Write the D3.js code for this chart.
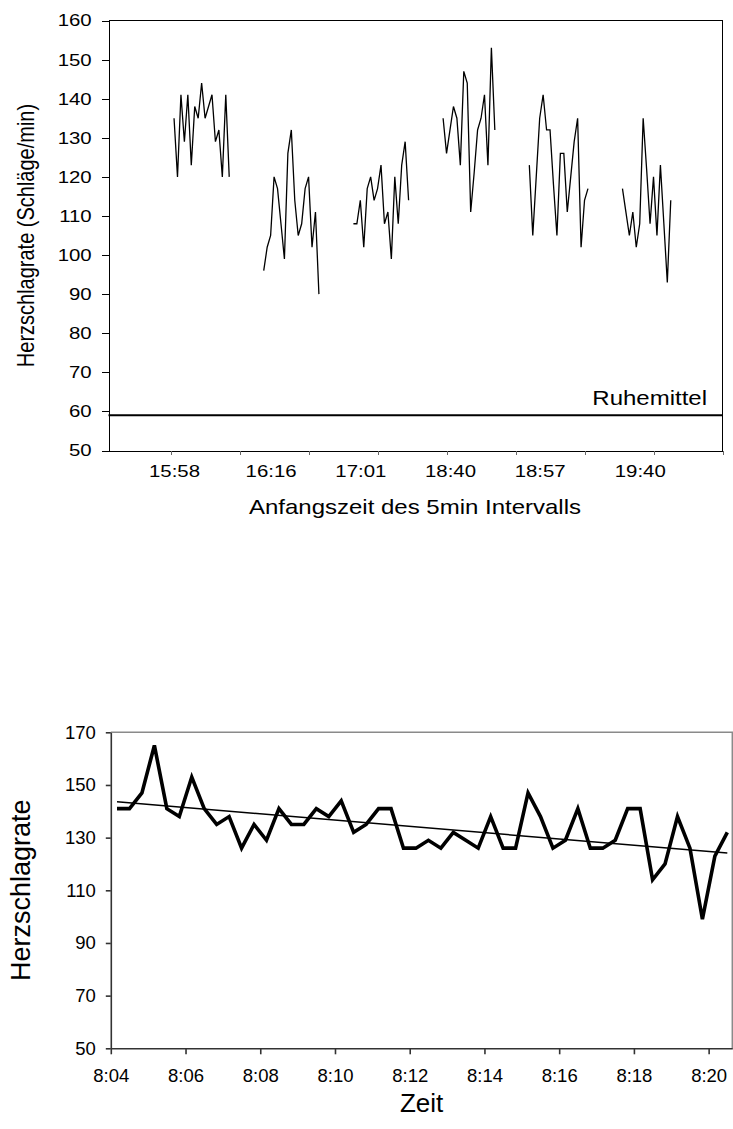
<!DOCTYPE html>
<html lang="de">
<head>
<meta charset="utf-8">
<title>Herzschlagrate</title>
<script src="https://cdn.jsdelivr.net/npm/d3@7"></script>
<style>
  body { margin: 0; background: #fff; }
  svg text { font-family: "Liberation Sans", Arial, Helvetica, sans-serif; fill: #000; }
</style>
</head>
<body>
<svg id="chart" width="733" height="1129"></svg>
<script>
// ---- top chart: heart rate in six 5 minute intervals (category axis) ----
var slotCount = 178;
var intervalLabels = ["15:58", "16:16", "17:01", "18:40", "18:57", "19:40"];
var labelSlots = [19, 47, 73, 99, 125, 154];
var intervalStarts = [19, 45, 71, 97, 122, 149];

var rate1558 = [135, 120, 141, 129, 141, 123, 138, 135, 144, 135, 138, 141, 129, 132, 120, 141, 120];
var rate1616 = [96, 102, 105, 120, 117, 108, 99, 126, 132, 114, 105, 108, 117, 120, 102, 111, 90];
var rate1701 = [108, 108, 114, 102, 117, 120, 114, 117, 123, 108, 111, 99, 120, 108, 123, 129, 114];
var rate1840 = [135, 126, 132, 138, 135, 123, 147, 144, 111, 121, 132, 135, 141, 123, 153, 132];
var rate1857 = [123, 105, 120, 135, 141, 132, 132, 118, 105, 126, 126, 111, 120, 129, 135, 102, 114, 117];
var rate1940 = [117, 111, 105, 111, 102, 108, 135, 122, 108, 120, 105, 123, 108, 93, 114];

var restMean = 59;
var yTicksTop = [50, 60, 70, 80, 90, 100, 110, 120, 130, 140, 150, 160];

// ---- bottom chart: heart rate every 20 s with linear trend ----
var sampleTimes = ["8:04:10", "8:04:30", "8:04:50", "8:05:10", "8:05:30", "8:05:50", "8:06:10", "8:06:30", "8:06:50", "8:07:10",
                   "8:07:30", "8:07:50", "8:08:10", "8:08:30", "8:08:50", "8:09:10", "8:09:30", "8:09:50", "8:10:10", "8:10:30",
                   "8:10:50", "8:11:10", "8:11:30", "8:11:50", "8:12:10", "8:12:30", "8:12:50", "8:13:10", "8:13:30", "8:13:50",
                   "8:14:10", "8:14:30", "8:14:50", "8:15:10", "8:15:30", "8:15:50", "8:16:10", "8:16:30", "8:16:50", "8:17:10",
                   "8:17:30", "8:17:50", "8:18:10", "8:18:30", "8:18:50", "8:19:10", "8:19:30", "8:19:50", "8:20:10", "8:20:30"];
var sampleRates = [141, 141, 147, 165, 141, 138, 153, 141, 135, 138,
                   126, 135, 129, 141, 135, 135, 141, 138, 144, 132,
                   135, 141, 141, 126, 126, 129, 126, 132, 129, 126,
                   138, 126, 126, 147, 138, 126, 129, 141, 126, 126,
                   129, 141, 141, 114, 120, 138, 126, 99, 123, 132];
var timeTicks = ["8:04", "8:06", "8:08", "8:10", "8:12", "8:14", "8:16", "8:18", "8:20"];
var yTicksBottom = [50, 70, 90, 110, 130, 150, 170];

var svg = d3.select("#chart");
var stretch = 1.2; // the upper figure is scanned a bit wider than tall

// ================= top chart =================
var xA = d3.scaleLinear().domain([0, slotCount]).range([108.5, 722.5]);
var yA = d3.scaleLinear().domain([50, 160]).range([450.5, 20.5]);
var gA = svg.append("g");

gA.append("path")
    .attr("d", "M" + xA(0) + "," + yA(160) + "H" + xA(slotCount) + "V" + yA(50))
    .attr("fill", "none")
    .attr("stroke", "#000")
    .attr("shape-rendering", "crispEdges");

var yAxisA = gA.append("g")
    .attr("transform", "translate(" + xA(0) + ",0)")
    .call(d3.axisLeft(yA).tickValues(yTicksTop).tickSize(7).tickSizeOuter(0).tickPadding(7))
    .attr("font-family", null).attr("font-size", 17);
yAxisA.selectAll("path, line").attr("shape-rendering", "crispEdges");
yAxisA.selectAll("text").attr("transform", "scale(" + stretch + ",1)");

var xTickA = gA.append("g")
    .attr("transform", "translate(0," + yA(50) + ")")
    .call(d3.axisBottom(xA).tickValues(d3.range(18, slotCount + 1, 20)).tickSize(4).tickSizeOuter(0).tickFormat(""));
xTickA.selectAll("path, line").attr("shape-rendering", "crispEdges");
xTickA.selectAll(".tick line").attr("stroke", "#666");

var xLabA = gA.append("g")
    .attr("transform", "translate(0," + yA(50) + ")")
    .call(d3.axisBottom(xA).tickValues(labelSlots).tickSize(0).tickPadding(14)
        .tickFormat(function (d, i) { return intervalLabels[i]; }))
    .attr("font-family", null).attr("font-size", 17);
xLabA.select(".domain").remove();
xLabA.selectAll("text").attr("transform", "scale(" + stretch + ",1)");

var lineA = d3.line()
    .x(function (d) { return xA(d.slot); })
    .y(function (d) { return yA(d.v); });

[rate1558, rate1616, rate1701, rate1840, rate1857, rate1940].forEach(function (vals, k) {
    var pts = vals.map(function (v, i) { return { slot: intervalStarts[k] + i, v: v }; });
    gA.append("path")
        .datum(pts)
        .attr("d", lineA)
        .attr("fill", "none")
        .attr("stroke", "#000")
        .attr("stroke-width", 1.3);
});

gA.append("line")
    .attr("x1", xA(0)).attr("x2", xA(slotCount))
    .attr("y1", yA(restMean)).attr("y2", yA(restMean))
    .attr("stroke", "#000")
    .attr("stroke-width", 2);

gA.append("text")
    .attr("transform", "translate(707,405) scale(" + stretch + ",1)")
    .attr("text-anchor", "end")
    .attr("font-size", 20)
    .text("Ruhemittel");

gA.append("text")
    .attr("transform", "translate(415,514) scale(" + stretch + ",1)")
    .attr("text-anchor", "middle")
    .attr("font-size", 20)
    .text("Anfangszeit des 5min Intervalls");

gA.append("text")
    .attr("transform", "translate(34," + (yA(50) + yA(160)) / 2 + ") rotate(-90) scale(1," + stretch + ")")
    .attr("text-anchor", "middle")
    .attr("font-size", 20)
    .text("Herzschlagrate (Schläge/min)");

// ================= bottom chart =================
var parseTime = d3.utcParse("%H:%M:%S");
var parseTick = d3.utcParse("%H:%M");
var samples = sampleTimes.map(function (t, i) { return { t: parseTime(t), v: sampleRates[i] }; });

var xB = d3.scaleUtc().domain([parseTime("8:04:00"), parseTime("8:20:38")]).range([110.8, 732.3]);
var yB = d3.scaleLinear().domain([50, 170]).range([1048.3, 732.3]);
var gB = svg.append("g");

// light frame on top and right
gB.append("path")
    .attr("d", "M" + xB.range()[0] + "," + yB(170) + "H" + xB.range()[1] + "V" + yB(50))
    .attr("fill", "none")
    .attr("stroke", "#8a8a8a")
    .attr("stroke-width", 1.5);

var yAxisB = gB.append("g")
    .attr("transform", "translate(" + xB.range()[0] + ",0)")
    .call(d3.axisLeft(yB).tickValues(yTicksBottom).tickSize(5).tickSizeOuter(0).tickPadding(10))
    .attr("font-family", null).attr("font-size", 18.5);
yAxisB.selectAll("path, line").attr("stroke", "#333").attr("stroke-width", 1.6);

var xAxisB = gB.append("g")
    .attr("transform", "translate(0," + yB(50) + ")")
    .call(d3.axisBottom(xB).tickValues(timeTicks.map(parseTick)).tickSize(6).tickSizeOuter(0).tickPadding(15)
        .tickFormat(d3.utcFormat("%-H:%M")))
    .attr("font-family", null).attr("font-size", 18.5);
xAxisB.selectAll("path, line").attr("stroke", "#333").attr("stroke-width", 1.6);

gB.append("path")
    .datum(samples)
    .attr("d", d3.line().x(function (d) { return xB(d.t); }).y(function (d) { return yB(d.v); }))
    .attr("fill", "none")
    .attr("stroke", "#000")
    .attr("stroke-width", 3.6)
    .attr("stroke-linejoin", "miter");

// least squares trend line over the samples
var n = samples.length;
var mx = d3.mean(samples, function (d) { return +d.t; });
var my = d3.mean(samples, function (d) { return d.v; });
var sxy = d3.sum(samples, function (d) { return (+d.t - mx) * (d.v - my); });
var sxx = d3.sum(samples, function (d) { return (+d.t - mx) * (+d.t - mx); });
var slope = sxy / sxx;
var trend = [samples[0], samples[n - 1]].map(function (d) {
    return { t: d.t, v: my + slope * (+d.t - mx) };
});
gB.append("path")
    .datum(trend)
    .attr("d", d3.line().x(function (d) { return xB(d.t); }).y(function (d) { return yB(d.v); }))
    .attr("fill", "none")
    .attr("stroke", "#000")
    .attr("stroke-width", 1.5);

gB.append("text")
    .attr("transform", "translate(30," + (yB(50) + yB(170)) / 2 + ") rotate(-90)")
    .attr("text-anchor", "middle")
    .attr("font-size", 27)
    .text("Herzschlagrate");

gB.append("text")
    .attr("transform", "translate(" + (xB.range()[0] + xB.range()[1]) / 2 + ",1112)")
    .attr("text-anchor", "middle")
    .attr("font-size", 26)
    .text("Zeit");
</script>
</body>
</html>
